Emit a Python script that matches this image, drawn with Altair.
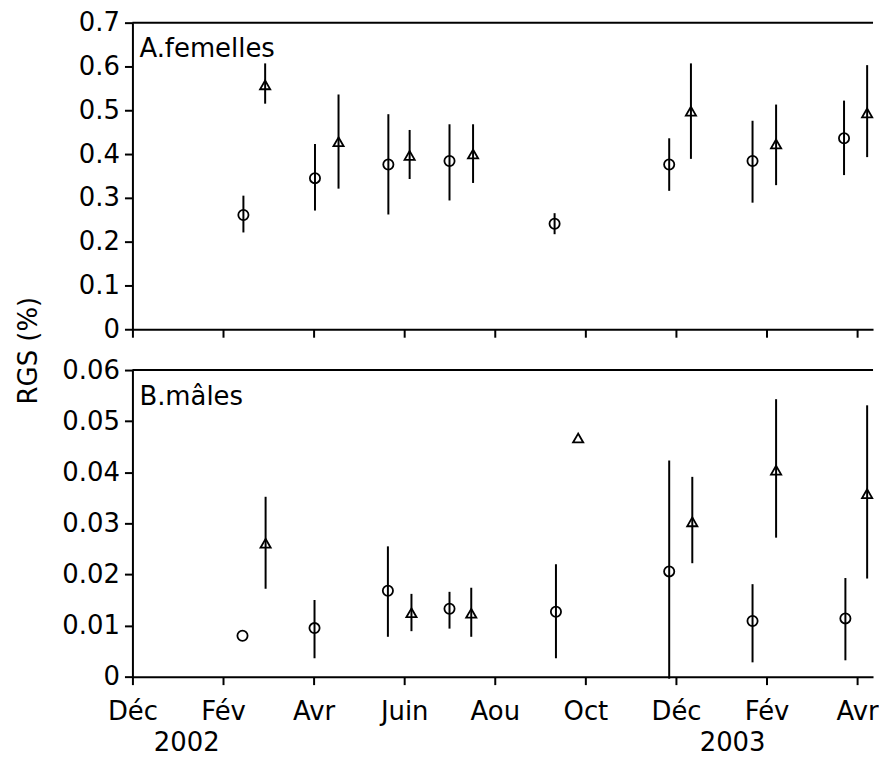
import json
import altair as alt
import pandas as pd

# ---------------- data ----------------
# x position = months since December 2001
mois_etiquettes = ["Déc", "Fév", "Avr", "Juin", "Aou", "Oct", "Déc", "Fév", "Avr"]
mois_ticks = [0, 2, 4, 6, 8, 10, 12, 14, 16]
annees = ["2002", "2003"]
annees_pos = [1.2, 13.25]

# A. femelles -- série 1 (cercles)
f1_mois = [2.45, 4.03, 5.65, 7.0, 9.32, 11.85, 13.69, 15.71]
f1_val = [0.261, 0.345, 0.376, 0.384, 0.241, 0.376, 0.384, 0.436]
f1_bas = [0.221, 0.271, 0.262, 0.294, 0.217, 0.316, 0.289, 0.352]
f1_haut = [0.305, 0.423, 0.491, 0.468, 0.265, 0.436, 0.476, 0.522]
# A. femelles -- série 2 (triangles)
f2_mois = [2.93, 4.55, 6.12, 7.52, 12.33, 14.21, 16.22]
f2_val = [0.558, 0.428, 0.397, 0.400, 0.498, 0.423, 0.494]
f2_bas = [0.515, 0.321, 0.343, 0.334, 0.389, 0.329, 0.393]
f2_haut = [0.607, 0.536, 0.455, 0.468, 0.607, 0.513, 0.603]

# B. mâles -- série 1 (cercles)
m1_mois = [2.43, 4.02, 5.64, 7.0, 9.35, 11.85, 13.69, 15.74]
m1_val = [0.0080, 0.0095, 0.0168, 0.0133, 0.0127, 0.0206, 0.0109, 0.0114]
m1_bas = [0.0080, 0.0036, 0.0078, 0.0094, 0.0036, -0.0004, 0.0028, 0.0032]
m1_haut = [0.0080, 0.0150, 0.0255, 0.0166, 0.0220, 0.0423, 0.0181, 0.0193]
# B. mâles -- série 2 (triangles)
m2_mois = [2.94, 6.16, 7.48, 9.84, 12.36, 14.21, 16.22]
m2_val = [0.0261, 0.0125, 0.0124, 0.0467, 0.0303, 0.0404, 0.0358]
m2_bas = [0.0172, 0.0089, 0.0078, 0.0467, 0.0222, 0.0272, 0.0192]
m2_haut = [0.0352, 0.0162, 0.0174, 0.0467, 0.0391, 0.0543, 0.0531]

y_ticks_f = [0, 0.1, 0.2, 0.3, 0.4, 0.5, 0.6, 0.7]
y_ticks_m = [0, 0.01, 0.02, 0.03, 0.04, 0.05, 0.06]

# ---------------- build tables ----------------
def table(m1, v1, b1, h1, m2, v2, b2, h2):
    rows = []
    for m, v, b, h in zip(m1, v1, b1, h1):
        rows.append({"mois": m, "valeur": v, "bas": b, "haut": h, "serie": "1"})
    for m, v, b, h in zip(m2, v2, b2, h2):
        rows.append({"mois": m, "valeur": v, "bas": b, "haut": h, "serie": "2"})
    return pd.DataFrame(rows)

df_f = table(f1_mois, f1_val, f1_bas, f1_haut, f2_mois, f2_val, f2_bas, f2_haut)
df_m = table(m1_mois, m1_val, m1_bas, m1_haut, m2_mois, m2_val, m2_bas, m2_haut)
df_annees = pd.DataFrame({"mois": annees_pos, "annee": annees})

FONT = "DejaVu Sans"
FS = 26
W = 744
H = 308
X_MAX = 16.35
label_expr = json.dumps(mois_etiquettes, ensure_ascii=False) + "[round(datum.value/2)]"


def panel(df, ydom, yticks, lettre, show_labels, ytitle):
    xenc = alt.X(
        "mois:Q",
        scale=alt.Scale(domain=[0, X_MAX], nice=False, zero=False),
        axis=alt.Axis(values=mois_ticks, labels=show_labels, labelExpr=label_expr,
                      title=None, labelPadding=14, grid=False, labelFlush=False),
    )
    axis_kw = dict(values=yticks, format="~f", labelPadding=5, grid=False, labelFlush=False)
    if ytitle:
        axis_kw.update(title=ytitle, titleX=-96, titleY=329, titleAngle=270,
                       titleAlign="center", titleBaseline="alphabetic")
    else:
        axis_kw.update(title=None)
    yaxis = alt.Axis(**axis_kw)
    yscale = alt.Scale(domain=ydom, nice=False, zero=False)

    base = alt.Chart(df)
    # top frame line (the right side of the frame is cut off in the reference)
    cadre = alt.Chart(pd.DataFrame({"c": [0]})).mark_rule(color="black", strokeWidth=2).encode(
        x=alt.value(0), x2=alt.value(W), y=alt.value(0)
    )
    rules = base.mark_rule(color="black", strokeWidth=2).encode(
        x=xenc,
        y=alt.Y("bas:Q", scale=yscale, axis=yaxis),
        y2="haut:Q",
    )
    pts = base.mark_point(filled=False, color="black", strokeWidth=1.8, size=105, opacity=1).encode(
        x=xenc,
        y=alt.Y("valeur:Q", scale=yscale, axis=yaxis),
        shape=alt.Shape("serie:N", scale=alt.Scale(domain=["1", "2"], range=["circle", "triangle-up"]),
                        legend=None),
    )
    lab = alt.Chart(pd.DataFrame({"t": [lettre]})).mark_text(
        align="left", baseline="alphabetic", font=FONT, fontSize=FS, color="black"
    ).encode(text="t:N", x=alt.value(7), y=alt.value(35))
    layers = [cadre, rules, pts, lab]
    if show_labels:
        yrs = alt.Chart(df_annees).mark_text(
            align="center", baseline="alphabetic", font=FONT, fontSize=FS, color="black"
        ).encode(x=xenc, text="annee:N", y=alt.value(H + 75))
        layers.append(yrs)
    return alt.layer(*layers).properties(width=W, height=H)


top = panel(df_f, [0, 0.7], y_ticks_f, "A.femelles", False, "RGS (%)")
bottom = panel(df_m, [0, 0.06], y_ticks_m, "B.mâles", True, None)

chart = alt.vconcat(top, bottom, spacing=41, bounds="flush").properties(
    padding={"left": 8, "top": 0, "right": 0, "bottom": 0},
    background="white",
).configure_view(
    stroke=None
).configure_axis(
    labelFont=FONT, labelFontSize=FS, labelColor="black",
    titleFont=FONT, titleFontSize=FS, titleColor="black", titleFontWeight="normal",
    domainColor="black", domainWidth=2, tickColor="black", tickWidth=2, tickSize=8,
    grid=False,
)

chart.save("out.html", embed_options={"renderer": "svg", "actions": False})
